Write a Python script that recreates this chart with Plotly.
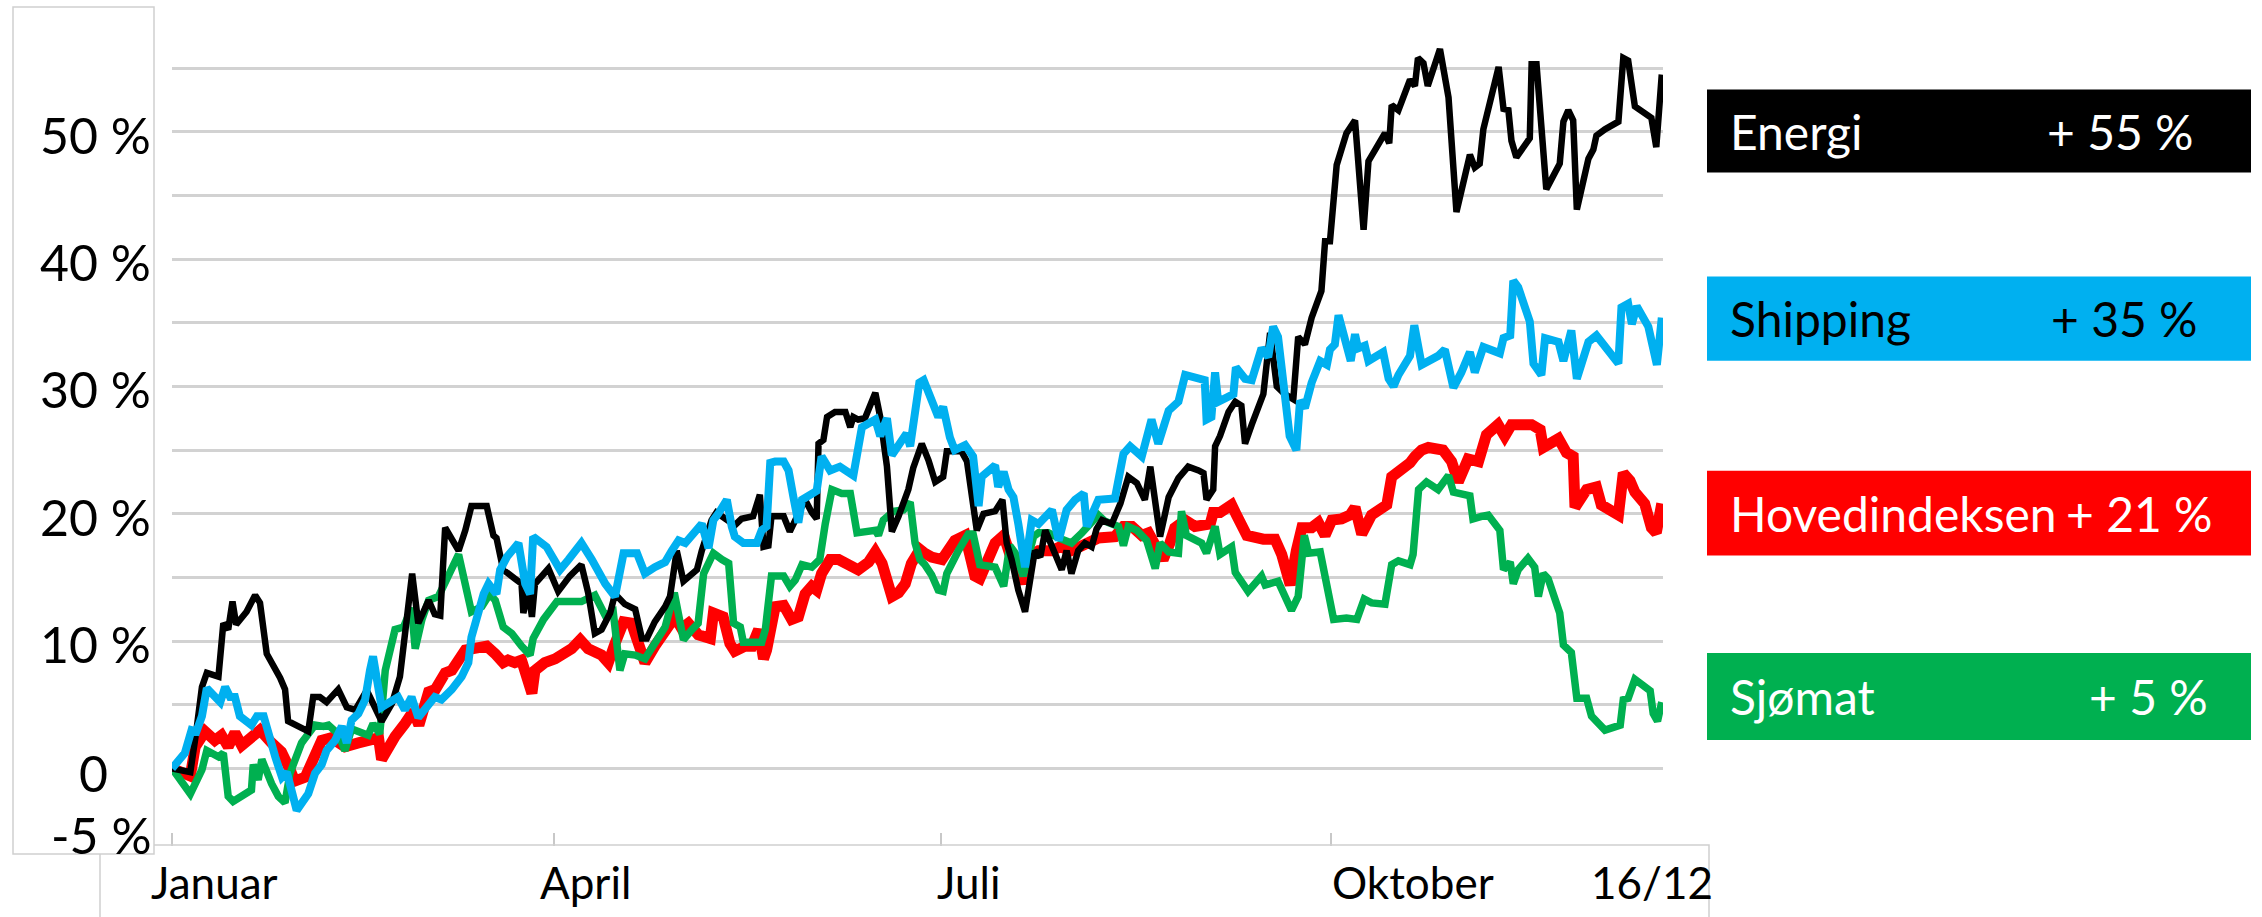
import plotly.graph_objects as go

# handelsdag (0 = første handelsdag i januar) og endring i prosent siden nyttår
energi_dag = [0, 1, 3, 4, 4.9, 5.7, 7.6, 8.4, 9.2, 9.9, 10.5, 12.2, 13.6, 14.4, 15.5, 17.7, 18.5, 19.0, 20.4, 22.3,
              23.1, 24.2, 25.3, 27.2, 28.6, 30.0, 31.6, 32.1, 34.3, 36.0, 37.3, 38.2, 39.3, 40.3, 42.0, 43.0, 43.9, 44.7, 46.9, 48.0,
              49.0, 51.5, 52.6, 53.1, 54.2, 56.1, 57.2, 57.5, 58.3, 58.9, 59.4, 61.6, 63.2, 65.1, 67.0, 68.1, 69.2, 70.3, 71.7, 72.5,
              74.1, 75.8, 76.9, 77.7, 79.0, 80.7, 81.5, 82.6, 83.7, 85.9, 86.7, 88.3, 89.1, 92.1, 93.2, 95.1, 96.2, 96.8, 97.6, 98.1,
              100.1, 101.1, 103.6, 104.7, 105.5, 105.8, 106.6, 107.2, 108.5, 110.2, 111.0, 111.5, 112.3, 113.4, 115.1, 115.9, 117.0, 117.8, 118.9, 120.5,
              121.3, 122.7, 123.8, 124.9, 126.2, 126.8, 129.2, 130.1, 131.1, 131.7, 132.8, 134.7, 135.9, 136.6, 137.4, 138.5, 139.6, 140.4, 141.2, 142.1,
              142.9, 145.6, 146.4, 147.2, 148.3, 149.4, 150.5, 151.3, 152.2, 153.8, 155.2, 156.5, 157.9, 159.2, 160.1, 161.7, 163.1, 164.7, 166.3, 168.0,
              168.8, 169.3, 170.4, 170.7, 171.5, 172.9, 174.0, 175.0, 175.6, 176.7, 178.6, 179.7, 180.8, 182.1, 183.5, 184.3, 185.4, 186.5, 188.1, 188.7,
              189.5, 190.6, 192.2, 193.6, 195.0, 195.8, 197.4, 198.5, 199.2, 199.6, 200.7, 202.6, 203.4, 203.9, 204.8, 205.5, 207.5, 208.9, 210.2, 212.4,
              213.2, 214.0, 214.6, 215.9, 217.1, 217.9, 218.7, 219.2, 220.0, 222.2, 222.5, 223.3, 224.9, 227.1, 227.7, 228.5, 229.3, 229.9, 231.8, 232.6,
              233.1, 234.5, 236.7, 237.5, 238.3, 239.4, 242.1, 242.9, 243.8]
energi = [0, -0.1, -0.3, 3.0, 6.4, 7.5, 7.2, 11.4, 10.9, 13.1, 11.3, 12.3, 13.6, 13.0, 9.0, 7.1, 6.2, 3.7, 3.4, 2.9,
          5.6, 5.6, 5.2, 6.2, 4.8, 4.6, 5.9, 5.9, 3.7, 5.1, 7.2, 10.9, 15.3, 11.4, 13.2, 12.1, 12.0, 18.9, 17.1, 18.7,
          20.6, 20.6, 18.3, 18.1, 15.6, 14.9, 14.5, 12.2, 14.0, 11.9, 14.5, 15.7, 13.9, 15.1, 16.0, 13.8, 10.6, 10.9, 12.2, 13.7,
          12.9, 12.5, 10.2, 10.2, 11.5, 12.7, 13.5, 17.1, 14.7, 15.6, 17.1, 19.5, 20.1, 19.1, 19.6, 19.8, 21.5, 17.4, 17.5, 19.8,
          19.8, 18.6, 21.1, 20.1, 19.6, 25.5, 25.8, 27.6, 28.0, 28.0, 26.8, 27.6, 27.4, 27.5, 29.5, 27.6, 23.7, 18.6, 19.8, 21.9,
          23.6, 25.5, 24.2, 22.5, 22.9, 24.9, 24.9, 24.1, 20.6, 18.7, 20.0, 20.2, 21.1, 17.7, 16.4, 14.0, 12.3, 15.1, 17.1, 16.6,
          18.7, 15.6, 17.1, 15.3, 17.1, 17.7, 17.4, 18.8, 19.5, 19.2, 20.8, 22.9, 22.4, 21.1, 23.7, 18.2, 21.3, 22.8, 23.7, 23.4,
          23.2, 21.1, 21.9, 25.3, 26.1, 28.0, 28.8, 28.5, 25.5, 27.0, 29.4, 34.2, 30.0, 29.4, 29.0, 33.9, 33.3, 35.4, 37.5, 41.4,
          41.4, 47.4, 49.9, 50.9, 42.3, 47.7, 48.9, 49.9, 49.1, 52.1, 51.7, 54.1, 53.6, 55.8, 55.4, 53.6, 56.5, 52.7, 43.7, 48.2,
          47.2, 47.5, 50.2, 52.6, 55.1, 51.8, 51.7, 49.3, 48.0, 49.5, 55.3, 55.3, 45.5, 47.5, 50.8, 51.7, 50.9, 43.9, 47.9, 48.6,
          49.7, 50.2, 50.8, 55.8, 55.6, 52.0, 51.1, 48.8, 54.5]

shipping_dag = [0, 2.1, 3.2, 4.0, 4.9, 5.7, 7.9, 8.7, 9.5, 10.3, 11.1, 13.0, 13.9, 15.0, 16.9, 18.0, 18.8, 20.4, 22.3, 23.4,
                24.5, 25.3, 26.7, 27.8, 28.6, 29.4, 30.5, 31.6, 32.4, 32.9, 34.3, 36.0, 37.0, 38.1, 39.2, 40.3, 41.4, 43.0, 44.1, 45.8,
                47.4, 48.5, 49.0, 49.9, 51.0, 51.8, 53.1, 53.7, 54.8, 56.7, 57.8, 58.6, 59.1, 61.3, 62.7, 63.5, 64.9, 67.0, 68.7, 70.9,
                72.5, 73.9, 76.1, 77.4, 79.0, 80.7, 81.8, 82.9, 84.0, 85.6, 86.7, 87.8, 88.6, 89.4, 90.8, 91.6, 92.1, 93.5, 95.7, 96.5,
                97.3, 97.9, 98.7, 100.1, 100.9, 101.7, 102.5, 103.1, 104.7, 105.5, 106.3, 107.7, 109.3, 111.5, 112.9, 113.7, 115.1, 115.9, 117.0, 117.8,
                118.9, 120.2, 120.8, 121.3, 122.3, 123.0, 124.1, 125.4, 126.2, 127.3, 128.1, 129.8, 131.1, 132.0, 132.5, 134.7, 135.2, 136.1, 136.9, 137.7,
                138.5, 139.6, 140.7, 141.8, 144.0, 145.1, 146.4, 147.8, 149.2, 149.7, 151.6, 154.3, 155.7, 156.8, 158.7, 160.3, 161.4, 163.1, 164.7, 165.8,
                169.0, 169.3, 170.1, 170.7, 171.2, 172.9, 173.7, 174.1, 175.6, 176.7, 178.3, 179.4, 180.2, 181.0, 182.1, 182.9, 184.0, 184.6, 185.4, 186.5,
                187.9, 189.0, 189.5, 190.3, 190.9, 192.0, 192.9, 193.6, 194.1, 195.2, 195.8, 198.2, 199.1, 199.9, 200.7, 202.6, 203.3, 204.5, 207.2, 208.3,
                209.7, 211.0, 212.4, 213.2, 214.6, 217.3, 217.9, 219.0, 219.5, 220.3, 222.2, 222.8, 224.1, 224.7, 226.9, 227.7, 229.0, 229.9, 231.8, 233.1,
                234.5, 236.7, 237.2, 238.3, 238.9, 239.7, 241.6, 243.0, 243.8]
shipping = [0, 1.2, 3.0, 2.9, 4.1, 6.3, 5.2, 6.4, 5.6, 5.6, 4.1, 3.4, 4.1, 4.1, 0.9, -0.7, -0.3, -3.3, -2.0, -0.4,
            0.3, 1.4, 2.2, 3.3, 2.0, 3.8, 4.3, 5.4, 7.7, 8.8, 4.8, 5.2, 5.6, 4.6, 5.6, 4.0, 4.6, 5.6, 5.4, 6.2,
            7.2, 8.3, 10.3, 11.9, 13.7, 14.5, 13.7, 15.6, 16.6, 17.7, 14.5, 13.7, 18.2, 17.4, 16.4, 15.6, 16.4, 17.7, 16.4, 14.5,
            13.5, 16.9, 16.9, 15.3, 15.8, 16.2, 17.1, 17.9, 17.7, 18.5, 19.2, 17.3, 19.5, 20.0, 21.1, 19.0, 18.2, 17.7, 17.7, 18.7,
            19.0, 24.0, 24.1, 24.1, 23.4, 21.3, 19.3, 21.1, 21.5, 21.8, 24.5, 23.4, 23.7, 23.0, 26.8, 27.0, 27.4, 26.1, 27.5, 24.6,
            25.5, 26.3, 25.3, 26.8, 30.3, 30.5, 29.0, 27.6, 28.4, 26.0, 25.0, 25.4, 24.5, 20.6, 22.9, 23.8, 22.1, 23.3, 21.9, 21.3,
            19.2, 15.8, 19.5, 19.2, 20.3, 17.9, 20.3, 21.1, 21.6, 19.0, 21.1, 21.2, 24.7, 25.3, 24.5, 27.4, 25.5, 28.1, 28.8, 30.9,
            30.5, 27.4, 27.6, 31.1, 28.8, 29.1, 29.4, 31.5, 30.6, 30.5, 33.0, 32.3, 34.7, 33.9, 29.4, 26.1, 25.0, 28.9, 28.3, 30.3,
            32.0, 31.7, 32.9, 33.3, 35.6, 33.6, 32.0, 34.1, 33.0, 33.2, 32.0, 32.7, 30.6, 30.0, 30.9, 32.4, 34.8, 31.7, 32.4, 32.9,
            29.9, 31.1, 32.7, 31.1, 33.1, 32.6, 33.8, 34.0, 38.3, 37.8, 35.1, 31.8, 30.9, 33.8, 33.5, 32.0, 34.4, 30.6, 33.5, 34.0,
            33.1, 31.8, 36.2, 36.5, 34.9, 36.3, 34.7, 31.7, 35.4]

hovedindeks_dag = [0, 3.0, 3.8, 5.4, 7.0, 8.1, 9.2, 10.3, 11.4, 13.0, 14.4, 16.3, 17.9, 19.3, 20.1, 21.8, 23.1, 24.5, 26.1, 28.3,
                   30.5, 32.1, 33.8, 34.3, 35.1, 36.5, 38.1, 39.5, 40.4, 41.4, 42.0, 43.1, 43.9, 44.7, 45.8, 46.9, 48.0, 49.3, 51.5, 52.9,
                   54.2, 55.0, 56.1, 57.2, 58.3, 58.9, 59.4, 61.0, 62.7, 64.0, 65.4, 66.8, 68.1, 70.3, 71.4, 72.5, 73.9, 75.2, 76.3, 77.4,
                   79.0, 80.7, 82.3, 83.4, 84.5, 86.1, 88.1, 88.6, 90.2, 91.3, 92.1, 93.8, 94.9, 96.0, 96.8, 97.3, 98.7, 100.1, 101.4, 102.5,
                   103.6, 104.7, 105.5, 106.3, 107.7, 109.1, 110.7, 112.3, 114.0, 115.1, 116.2, 117.0, 117.8, 118.9, 120.0, 121.0, 122.4, 123.2, 124.3, 126.0,
                   127.1, 128.1, 129.8, 130.6, 131.4, 132.2, 133.6, 134.7, 136.1, 137.4, 138.5, 139.3, 140.2, 141.8, 144.0, 145.3, 147.2, 148.9, 150.0, 151.6,
                   154.3, 155.7, 157.1, 158.7, 159.8, 162.2, 163.3, 164.1, 165.8, 167.4, 169.9, 170.4, 171.5, 173.4, 174.2, 175.0, 175.9, 178.6, 180.5, 181.6,
                   183.0, 184.0, 184.9, 186.5, 187.6, 188.7, 189.8, 191.4, 192.8, 193.6, 194.7, 196.3, 198.8, 199.6, 201.2, 202.6, 203.4, 204.5, 205.6, 208.0,
                   209.4, 210.5, 212.1, 213.8, 215.1, 217.0, 218.1, 219.2, 222.5, 223.9, 224.4, 226.9, 228.2, 229.3, 229.6, 231.5, 233.1, 233.9, 236.7, 237.5,
                   238.6, 239.4, 241.0, 242.1, 242.9, 243.8]
hovedindeks = [0, -0.6, 1.7, 2.9, 2.2, 2.6, 1.7, 2.8, 1.8, 2.6, 3.0, 2.0, 1.3, -0.1, -1.0, -0.7, 0.9, 2.2, 2.4, 1.7,
               2.0, 2.2, 2.4, 0.7, 1.4, 2.5, 3.5, 4.5, 3.4, 4.8, 6.0, 6.2, 6.7, 7.5, 7.7, 8.5, 9.3, 9.4, 9.6, 9.0,
               8.3, 8.5, 8.3, 8.5, 6.7, 5.9, 7.7, 8.3, 8.6, 8.9, 9.4, 10.1, 9.4, 8.9, 8.3, 9.8, 11.5, 11.4, 9.6, 8.3,
               9.6, 11.0, 11.9, 11.0, 11.4, 10.5, 10.2, 12.2, 11.9, 9.8, 9.2, 9.6, 9.6, 10.9, 8.6, 9.3, 12.7, 12.8, 11.7, 11.9,
               13.7, 14.3, 14.0, 15.3, 16.4, 16.4, 16.1, 15.6, 16.2, 17.0, 16.1, 14.5, 13.5, 13.8, 14.5, 16.1, 17.2, 16.9, 16.6, 16.4,
               17.4, 17.9, 18.3, 16.6, 15.1, 14.9, 16.4, 17.7, 18.3, 16.4, 15.6, 14.5, 16.6, 17.1, 17.1, 17.4, 17.1, 17.4, 17.8, 18.1,
               18.2, 19.0, 19.0, 18.3, 18.5, 16.4, 17.7, 18.9, 19.5, 19.0, 19.2, 20.1, 20.1, 20.7, 19.9, 19.2, 18.3, 18.0, 18.0, 16.8,
               14.4, 17.1, 18.9, 18.9, 19.3, 18.3, 19.5, 19.6, 19.9, 20.5, 18.4, 19.9, 20.7, 22.9, 23.4, 24.0, 24.5, 25.0, 25.2, 25.0,
               24.1, 22.5, 24.3, 24.1, 26.2, 27.0, 26.1, 27.0, 27.0, 26.6, 25.2, 25.9, 24.8, 24.5, 20.5, 21.9, 22.1, 20.7, 19.9, 23.2,
               22.6, 21.7, 20.8, 18.9, 18.5, 20.8]

sjomat_dag = [0, 3.0, 4.9, 5.7, 7.6, 8.4, 9.2, 10.0, 13.0, 13.3, 14.1, 14.7, 16.3, 17.4, 18.5, 19.3, 21.2, 23.4, 24.8, 25.6,
              27.2, 28.3, 29.4, 30.5, 32.1, 32.9, 34.0, 34.9, 36.5, 37.9, 39.2, 39.8, 40.9, 42.0, 43.6, 45.0, 46.9, 49.0, 50.7, 52.0,
              52.9, 54.2, 55.6, 57.2, 58.6, 59.1, 60.8, 63.0, 67.0, 69.2, 70.9, 72.2, 73.3, 74.1, 75.8, 77.4, 79.6, 80.7, 82.2, 83.7,
              85.1, 86.1, 87.0, 88.6, 90.0, 91.1, 91.9, 93.0, 93.5, 96.5, 97.1, 98.1, 100.1, 101.1, 102.0, 103.1, 104.7, 106.0, 106.9, 108.0,
              109.6, 111.0, 112.1, 113.4, 115.1, 115.6, 116.4, 118.1, 119.7, 120.8, 121.6, 122.4, 123.2, 124.3, 125.4, 126.2, 126.8, 128.7, 130.3, 131.1,
              132.2, 134.7, 136.1, 137.1, 138.0, 139.3, 141.0, 141.8, 143.4, 145.1, 147.2, 148.9, 150.0, 151.6, 152.7, 154.9, 155.7, 156.5, 157.9, 159.5,
              160.9, 161.7, 163.1, 164.7, 165.2, 166.0, 168.5, 169.3, 170.7, 171.5, 173.4, 174.0, 176.1, 178.3, 178.9, 181.0, 183.2, 184.3, 185.3, 186.0,
              187.9, 190.1, 192.2, 193.9, 195.1, 196.3, 198.5, 199.6, 200.7, 202.6, 203.1, 204.0, 205.3, 207.2, 208.9, 209.7, 212.4, 212.9, 214.3, 215.4,
              217.3, 217.9, 219.0, 219.5, 220.3, 221.9, 223.0, 223.6, 224.4, 225.2, 227.1, 227.7, 229.0, 229.9, 231.5, 232.3, 234.5, 237.0, 237.5, 238.3,
              239.4, 241.9, 242.4, 243.1, 243.8]
sjomat = [0, -2.0, -0.1, 1.4, 0.9, 1.2, -2.2, -2.6, -1.7, 0.3, -0.9, 0.7, -1.2, -2.2, -2.7, -0.4, 2.0, 3.4, 3.3, 3.4,
          2.7, 1.4, 3.1, 2.9, 2.6, 3.5, 2.7, 7.7, 10.9, 11.1, 12.6, 9.4, 11.7, 13.2, 13.5, 14.9, 16.8, 12.3, 12.7, 13.7,
          13.2, 11.1, 10.6, 9.6, 8.9, 10.2, 11.7, 13.1, 13.1, 13.6, 12.0, 12.3, 7.7, 9.0, 8.9, 8.6, 10.1, 11.1, 13.8, 10.1,
          10.9, 11.4, 15.3, 16.9, 16.4, 16.1, 11.4, 11.1, 9.9, 9.9, 10.9, 15.1, 15.1, 14.3, 14.8, 16.0, 15.8, 16.4, 19.2, 21.9,
          21.6, 21.6, 18.5, 18.6, 18.7, 18.3, 19.5, 20.2, 20.3, 20.9, 17.7, 16.4, 16.0, 15.2, 14.0, 13.9, 15.3, 17.1, 18.4, 18.4,
          16.0, 15.8, 14.3, 17.5, 16.9, 15.1, 18.2, 18.5, 18.5, 18.1, 17.7, 18.5, 19.0, 19.9, 19.4, 19.0, 17.5, 19.0, 18.7, 17.9,
          15.7, 17.7, 17.0, 16.9, 20.2, 18.3, 17.7, 16.9, 19.0, 16.8, 17.4, 15.4, 13.9, 15.1, 14.4, 14.7, 12.4, 13.5, 18.3, 16.9,
          17.0, 11.7, 11.8, 11.7, 13.3, 13.0, 12.9, 16.0, 16.3, 16.0, 16.8, 21.9, 22.5, 21.9, 23.0, 21.7, 21.4, 19.6, 19.8, 19.9,
          18.7, 15.6, 16.2, 14.5, 15.6, 16.5, 15.8, 13.5, 15.3, 14.9, 12.2, 9.7, 9.1, 5.5, 5.5, 4.1, 3.0, 3.4, 5.4, 5.5,
          7.0, 6.1, 4.3, 3.7, 5.2]

serier = ["Energi", "Shipping", "Hovedindeksen", "Sjømat"]
endring = [55, 35, 21, 5]
farger = ["#000000", "#00B0F0", "#FF0000", "#00B050"]
tekstfarger = ["#FFFFFF", "#000000", "#FFFFFF", "#FFFFFF"]

y_verdier = [-5, 0, 10, 20, 30, 40, 50]
y_tekst = ["-5 %", "0", "10 %", "20 %", "30 %", "40 %", "50 %"]

mnd_tekst = ["Januar", "April", "Juli", "Oktober", "16/12"]
mnd_strek = [0, 62.5, 125.8, 189.7]
mnd_etikett = [6.9, 67.6, 130.3, 203.1, 242.2]

W, H = 2262, 917
L, R, T, B = 172, 599, 30, 85
PW, PH = W - L - R, H - T - B


def px(x):
    return (x - L) / PW


def py(y):
    return (H - B - y) / PH


fig = go.Figure()

linjer = [
    (hovedindeks_dag, hovedindeks, farger[2], 11),
    (sjomat_dag, sjomat, farger[3], 7.5),
    (energi_dag, energi, farger[0], 6.5),
    (shipping_dag, shipping, farger[1], 8),
]
for dag, verdi, farge, bredde in linjer:
    fig.add_trace(go.Scatter(x=dag, y=verdi, mode="lines", hoverinfo="skip",
                             line=dict(color=farge, width=bredde, shape="linear")))

fig.update_xaxes(range=[0, 244], showgrid=False, zeroline=False, showline=False,
                 tickmode="array", tickvals=mnd_strek, ticktext=[""] * len(mnd_strek),
                 ticks="outside", ticklen=13, tickwidth=2, tickcolor="#C8C8C8")
fig.update_yaxes(range=[-5, 58], showgrid=True, gridcolor="#D2D2D2", gridwidth=3,
                 zeroline=False, showline=False, tickmode="linear", tick0=-5, dtick=5,
                 showticklabels=False)

annotations = []
for v, t in zip(y_verdier, y_tekst):
    if t == "0":
        annotations.append(dict(x=px(93), xref="paper", y=v, yref="y", text=t, showarrow=False,
                                xanchor="center", yanchor="middle", yshift=-5,
                                font=dict(family="Lato", size=50, color="#000000")))
    else:
        annotations.append(dict(x=px(153), xref="paper", y=v, yref="y", text=t, showarrow=False,
                                xanchor="right", yanchor="middle", yshift=-3,
                                font=dict(family="Lato", size=50, color="#000000")))

for d, t in zip(mnd_etikett, mnd_tekst):
    annotations.append(dict(x=d, xref="x", y=0, yref="paper", text=t, showarrow=False,
                            xanchor="center", yanchor="top", yshift=-22,
                            font=dict(family="Lato", size=44, color="#000000")))

bokser = [(89.5, 172.5), (276.6, 360.8), (470.8, 555.6), (653, 740)]
hoyrekant = [2196, 2200, 2215, 2210]
shapes = [
    dict(type="rect", xref="paper", yref="paper", x0=px(100), x1=px(1709), y0=py(845), y1=py(930),
         line=dict(color="#D0D0D0", width=1.5), fillcolor="rgba(0,0,0,0)", layer="above"),
    dict(type="rect", xref="paper", yref="paper", x0=px(13), x1=px(154), y0=py(854), y1=py(7),
         line=dict(color="#D0D0D0", width=1.5), fillcolor="#FFFFFF", layer="above"),
]
for (y0, y1), navn, tall, farge, tf, hk in zip(bokser, serier, endring, farger, tekstfarger, hoyrekant):
    shapes.append(dict(type="rect", xref="paper", yref="paper", x0=px(1707), x1=px(2251),
                       y0=py(y1), y1=py(y0), fillcolor=farge, line=dict(width=0), layer="above"))
    midt = py((y0 + y1) / 2)
    annotations.append(dict(x=px(1728), xref="paper", y=midt, yref="paper", text=navn, showarrow=False,
                            xanchor="left", yanchor="middle",
                            font=dict(family="Lato", size=48, color=tf)))
    annotations.append(dict(x=px(hk), xref="paper", y=midt, yref="paper", text=f"+ {tall} %",
                            showarrow=False, xanchor="right", yanchor="middle",
                            font=dict(family="Lato", size=48, color=tf)))

fig.update_layout(width=W, height=H, autosize=False,
                  margin=dict(l=L, r=R, t=T, b=B, pad=0),
                  paper_bgcolor="#FFFFFF", plot_bgcolor="#FFFFFF",
                  showlegend=False, annotations=annotations, shapes=shapes,
                  font=dict(family="Lato"))

fig.write_html("out.html", config={"displayModeBar": False},
               post_script="document.body.style.margin='0';document.body.style.overflow='hidden';")
